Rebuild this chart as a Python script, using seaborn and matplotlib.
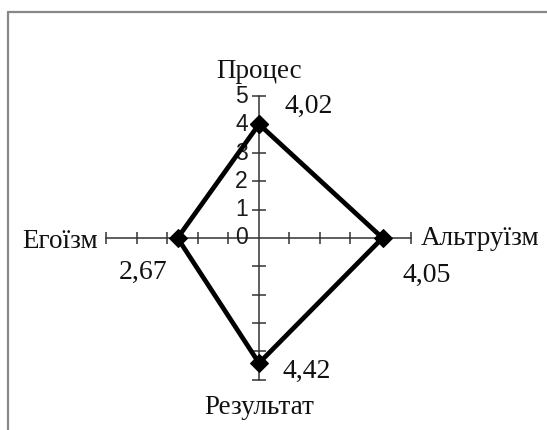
import pandas as pd
import matplotlib.pyplot as plt
from matplotlib.lines import Line2D
import seaborn as sns

# chart data
categories = ['Процес', 'Альтруїзм', 'Результат', 'Егоїзм']
values = [4.02, 4.05, 4.42, 2.67]
scale_ticks = [0, 1, 2, 3, 4, 5]
r_max = 5

# direction of each spoke (up, right, down, left)
dirs = [(0, 1), (1, 0), (0, -1), (-1, 0)]

df = pd.DataFrame({
    'cat': categories,
    'x': [v * d[0] for v, d in zip(values, dirs)],
    'y': [v * d[1] for v, d in zip(values, dirs)],
})
closed = pd.concat([df, df.iloc[:1]], ignore_index=True)

sns.set_style('white')
plt.rcParams['font.family'] = ['Liberation Serif', 'DejaVu Serif']

fig = plt.figure(figsize=(5.47, 4.3), dpi=100)
ax = fig.add_axes([0, 0, 1, 1])
ax.set_axis_off()
ax.set_xlim(-259 / 30.5, (547 - 259) / 30.5)
ax.set_ylim(-192 / 28.3, (430 - 192) / 28.3)

# spokes with tick marks
axis_col = '#333333'
ax.plot([-r_max, r_max], [0, 0], color=axis_col, lw=1.1, zorder=1)
ax.plot([0, 0], [-r_max, r_max], color=axis_col, lw=1.1, zorder=1)
tk = scale_ticks[1:]
ax.plot(tk + [-t for t in tk], [0] * (2 * len(tk)), ls='none', marker='|',
        ms=8, mew=1.1, color=axis_col, zorder=1)
ax.plot([0] * (2 * len(tk)), tk + [-t for t in tk], ls='none', marker='_',
        ms=10, mew=1.1, color=axis_col, zorder=1)

# scale labels on the top spoke
for t in scale_ticks:
    ax.annotate(str(t), (0, t), xytext=(-8, 0), textcoords='offset points',
                ha='right', va='center', fontsize=16.5, family='Liberation Sans',
                color='#1a1a1a')

# the data polygon
sns.lineplot(data=closed, x='x', y='y', sort=False, estimator=None, ax=ax,
             color='black', lw=3.4, marker='D', markersize=9.5, mec='black',
             zorder=3)
ax.set_xlabel('')
ax.set_ylabel('')

# category labels at the ends of the spokes
cat_offsets = [((0, 13.5), 'center'), ((7, -5), 'left'),
               ((0, -24.5), 'center'), ((-6.5, -7), 'right')]
for c, d, (off, ha) in zip(categories, dirs, cat_offsets):
    ax.annotate(c, (d[0] * r_max, d[1] * r_max), xytext=off,
                textcoords='offset points', ha=ha, va='baseline',
                fontsize=19.5, color='#111111')

# value labels next to the markers
val_offsets = [((18.5, 8), 'left'), ((14.5, -31.5), 'left'),
               ((17, -10.5), 'left'), ((-7.5, -29.5), 'right')]
for i, (off, ha) in enumerate(val_offsets):
    ax.annotate(f'{values[i]:.2f}'.replace('.', ','), (df.x[i], df.y[i]),
                xytext=off, textcoords='offset points', ha=ha, va='baseline',
                fontsize=20, color='#111111')

# frame around the chart area
fig.add_artist(Line2D([8 / 547, 1], [1 - 12 / 430, 1 - 12 / 430],
                      color='#888888', lw=1.6, transform=fig.transFigure))
fig.add_artist(Line2D([8 / 547, 8 / 547], [0, 1 - 12 / 430],
                      color='#888888', lw=1.6, transform=fig.transFigure))

fig.savefig('out.png', dpi=100)
